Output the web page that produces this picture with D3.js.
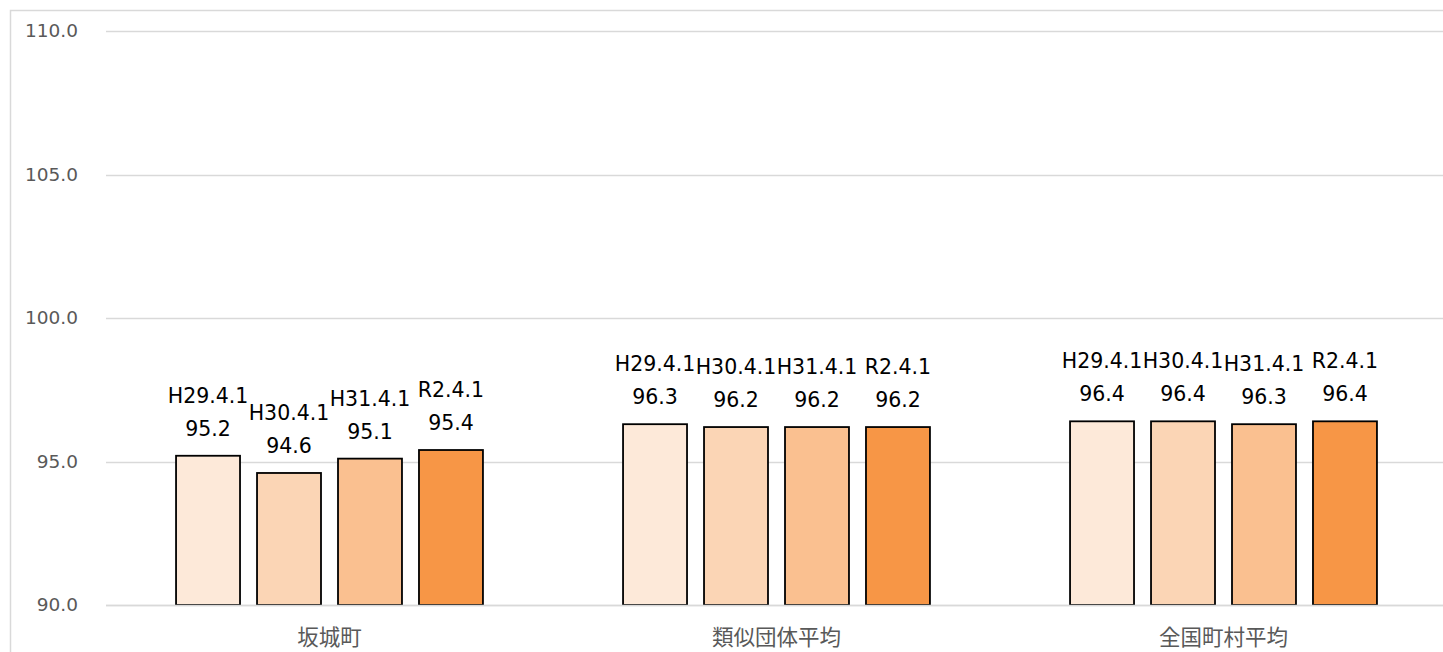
<!DOCTYPE html>
<html>
<head>
<meta charset="utf-8">
<script src="https://cdn.jsdelivr.net/npm/d3@7/dist/d3.min.js"></script>
<style>
  body { margin: 0; background: #fff; }
  svg { display: block; }
</style>
</head>
<body>
<svg id="chart" width="1443" height="652"></svg>
<script>
// chart data
const categories = ["坂城町", "類似団体平均", "全国町村平均"];
const seriesNames = ["H29.4.1", "H30.4.1", "H31.4.1", "R2.4.1"];
const seriesColors = ["#fde9d9", "#fbd5b5", "#fac090", "#f79646"];
const values = [
  [95.2, 94.6, 95.1, 95.4],   // 坂城町
  [96.3, 96.2, 96.2, 96.2],   // 類似団体平均
  [96.4, 96.4, 96.3, 96.4]    // 全国町村平均
];
const yTicks = [90, 95, 100, 105, 110];

const svg = d3.select("#chart");
const W = 1443, H = 652;
const plotLeft = 106, plotRight = 1447, plotTop = 31, plotBottom = 605;

// outer chart border (right/bottom edges fall off the page)
svg.append("rect")
  .attr("x", 10.5).attr("y", 10.5)
  .attr("width", W).attr("height", H)
  .attr("fill", "none")
  .attr("stroke", "#d9d9d9")
  .attr("stroke-width", 1.5);

const y = d3.scaleLinear().domain([90, 110]).range([plotBottom, plotTop]);
const x0 = d3.scaleBand().domain(categories).range([plotLeft, plotRight]);
const x1 = d3.scaleBand().domain(seriesNames)
  .range([0, x0.bandwidth()])
  .paddingInner(0.21)
  .paddingOuter(0.865);

// gridlines
svg.append("g")
  .selectAll("line")
  .data(yTicks)
  .join("line")
    .attr("x1", plotLeft).attr("x2", W)
    .attr("y1", d => Math.round(y(d)) + 0.5)
    .attr("y2", d => Math.round(y(d)) + 0.5)
    .attr("stroke", "#d9d9d9")
    .attr("stroke-width", 1.5);

// y tick labels
svg.append("g")
  .selectAll("text")
  .data(yTicks)
  .join("text")
    .attr("x", 78)
    .attr("y", d => y(d))
    .attr("dy", "0.35em")
    .attr("text-anchor", "end")
    .attr("font-family", "'DejaVu Sans', sans-serif")
    .attr("font-size", 18.5)
    .attr("fill", "#595959")
    .text(d => d.toFixed(1));

// bars
const groups = svg.append("g")
  .selectAll("g")
  .data(categories)
  .join("g")
    .attr("transform", d => `translate(${x0(d)},0)`);

const cells = groups.selectAll("g")
  .data((c, i) => seriesNames.map((s, j) => ({ s, j, v: values[i][j] })))
  .join("g");

cells.append("rect")
  .attr("x", d => x1(d.s))
  .attr("y", d => y(d.v))
  .attr("width", x1.bandwidth())
  .attr("height", d => y(90) - y(d.v))
  .attr("fill", d => seriesColors[d.j])
  .attr("stroke", "#000")
  .attr("stroke-width", 1.8);

// data labels: series name over value
const lbl = cells.append("text")
  .attr("text-anchor", "middle")
  .attr("font-family", "'DejaVu Sans', sans-serif")
  .attr("font-size", 20.5)
  .attr("fill", "#000");
lbl.append("tspan")
  .attr("x", d => x1(d.s) + x1.bandwidth() / 2)
  .attr("y", d => y(d.v) - 53)
  .text(d => d.s);
lbl.append("tspan")
  .attr("x", d => x1(d.s) + x1.bandwidth() / 2)
  .attr("y", d => y(d.v) - 20)
  .text(d => d.v.toFixed(1));

// axis line on top of bar bottoms
svg.append("line")
  .attr("x1", plotLeft).attr("x2", W)
  .attr("y1", plotBottom + 0.5).attr("y2", plotBottom + 0.5)
  .attr("stroke", "#d9d9d9")
  .attr("stroke-width", 1.5);

// category labels
svg.append("g")
  .selectAll("text")
  .data(categories)
  .join("text")
    .attr("x", d => x0(d) + x0.bandwidth() / 2)
    .attr("y", 637)
    .attr("dy", "0.35em")
    .attr("text-anchor", "middle")
    .attr("font-family", "'Noto Sans CJK JP', sans-serif")
    .attr("font-size", 21.5)
    .attr("fill", "#595959")
    .text(d => d);
</script>
</body>
</html>
